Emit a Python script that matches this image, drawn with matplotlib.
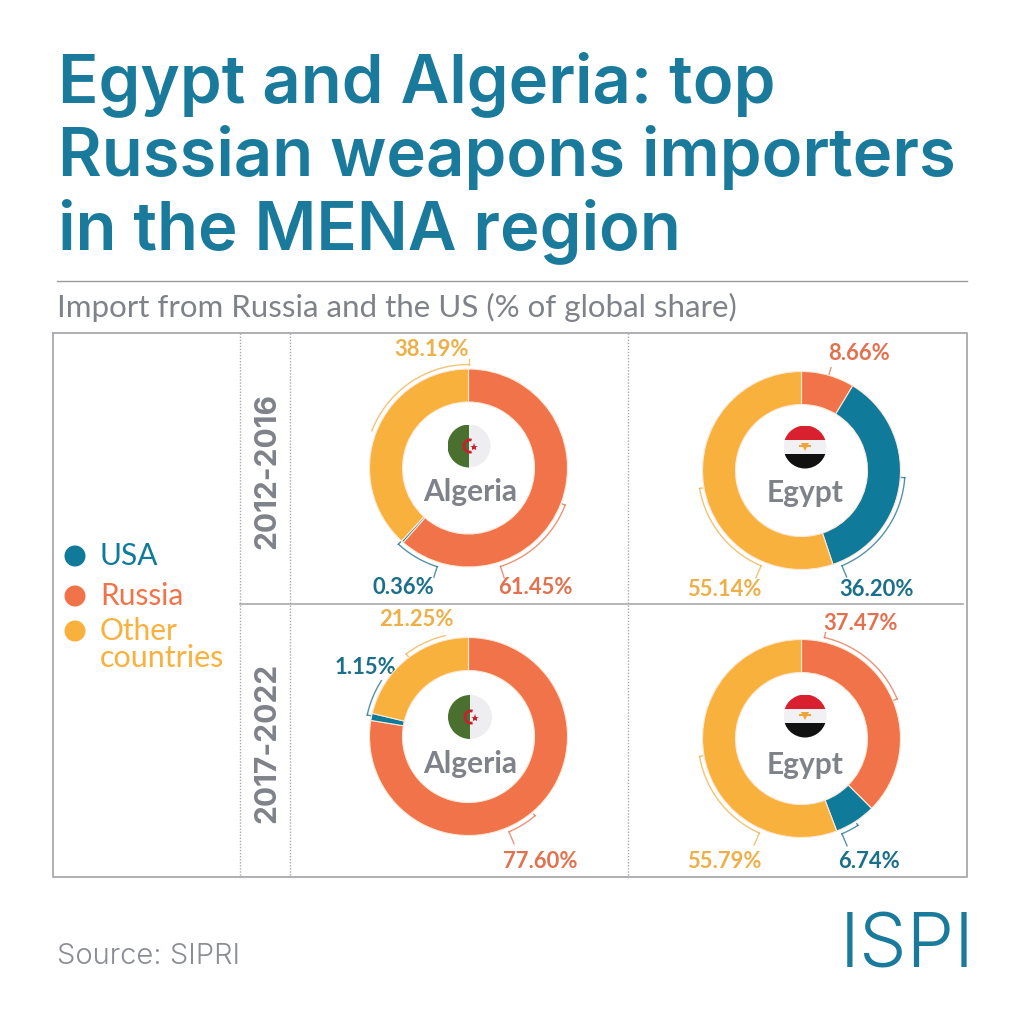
import numpy as np
import matplotlib
matplotlib.use('Agg')
import matplotlib.pyplot as plt
from matplotlib.patches import Circle, Rectangle, Wedge

TEAL = '#0F7A9A'
ORANGE = '#F0734A'
YELLOW = '#F9B13E'
GREY = '#7F8289'

series = ['USA', 'Russia', 'Other\ncountries']
countries = ['Algeria', 'Egypt', 'Algeria', 'Egypt']
periods = ['2012-2016', '2017-2022']

# share of imports, clockwise from the top
russia = [61.45, 8.66, 77.60, 37.47]
usa = [0.36, 36.20, 1.15, 6.74]
other = [38.19, 55.14, 21.25, 55.79]

title_lines = ['Egypt and Algeria: top', 'Russian weapons importers', 'in the MENA region']
subtitle = 'Import from Russia and the US (% of global share)'
source = 'Source: SIPRI'

centers = [(468.5, 468), (801.5, 470.5), (468.5, 736.5), (801.5, 738.5)]
R_OUT = 99
R_IN = 66

fig = plt.figure(figsize=(10.24, 10.24), dpi=100, facecolor='white')
ax = fig.add_axes([0, 0, 1, 1])
ax.set_xlim(0, 1024)
ax.set_ylim(1024, 0)
ax.axis('off')

# title block
for y, line in zip([84, 157, 231], title_lines):
    ax.text(58, y, line, color='#1A7A9B', fontsize=48.3, family='Inter', weight=600, va='center', ha='left')
ax.plot([57, 967], [281, 281], color='#9A9CA0', lw=1)
ax.text(57, 307, subtitle, color=GREY, fontsize=22.5, family='Lato', va='center', ha='left')

# frame and grid
ax.plot([53, 967, 967, 53, 53], [333, 333, 877, 877, 333], color='#A8A9AC', lw=1.3)
ax.plot([240, 963], [604, 604], color='#A8A9AC', lw=1.2)
for x in [240, 290, 628]:
    ax.plot([x, x], [333, 877], color='#A8A9AC', lw=1, ls=(0, (1, 1.2)))

# legend
for y, c, name in zip([556, 596, 631], [TEAL, ORANGE, YELLOW], series):
    ax.add_patch(Circle((75, y), 10.5, color=c, lw=0))
    ax.text(100, y, name.split('\n')[0], color=c, fontsize=21.5, family='Lato', va='center', ha='left')
ax.text(100, 658, series[2].split('\n')[1], color=YELLOW, fontsize=22, family='Lato', va='center', ha='left')

for y, p in zip([471, 743], periods):
    ax.text(267, y, p, color=GREY, fontsize=21.6, family='Inter', weight='bold', rotation=90, va='center', ha='center')


def polar(c, r, a):
    t = np.radians(a)
    return c[0] + r * np.sin(t), c[1] - r * np.cos(t)


def bracket(c, a0, a1, color, r=103.5, tick0=0, tick1=0):
    a = np.linspace(a0, a1, 60)
    x, y = polar(c, r, a)
    ax.plot(x, y, color=color, lw=1, alpha=0.75)
    if tick0:
        x, y = polar(c, np.array([r, r + tick0]), a0)
        ax.plot(x, y, color=color, lw=1, alpha=0.75)
    if tick1:
        x, y = polar(c, np.array([r, r + tick1]), a1)
        ax.plot(x, y, color=color, lw=1, alpha=0.75)


LT = '#1B6F8A'
LO = '#E2714F'
LY = '#EDB049'

# donuts
for i, c in enumerate(centers):
    pie_ax = fig.add_axes([(c[0] - R_OUT) / 1024, 1 - (c[1] + R_OUT) / 1024, 2 * R_OUT / 1024, 2 * R_OUT / 1024])
    pie_ax.pie([russia[i], usa[i], other[i]], colors=[ORANGE, TEAL, YELLOW], startangle=90, counterclock=False,
               radius=1, wedgeprops={'width': 1 - R_IN / R_OUT, 'edgecolor': '#FBE9D8', 'linewidth': 0.8})
    pie_ax.set_xlim(-1, 1)
    pie_ax.set_ylim(-1, 1)

# brackets around the rings
c = centers[0]
bracket(c, 291, 360, LY, tick1=6)
bracket(c, 111, 162, LO, tick0=-3, tick1=12)
bracket(c, 222.6, 197.6, LT, tick1=11, tick0=-3)
c = centers[1]
bracket(c, 94, 157, LT, tick0=-4, tick1=12)
bracket(c, 260, 203, LY, tick0=-3, tick1=13)
x0, y0 = polar(c, 98, 16)
x1, y1 = polar(c, 107, 16)
ax.plot([x0, x1], [y0, y1], color=LO, lw=1, alpha=0.75)
c = centers[2]
bracket(c, 347, 323, LY, tick1=-6)
bracket(c, 302.7, 282, LT, tick1=-5)
bracket(c, 140, 157, LO, tick0=-2, tick1=13)
c = centers[3]
bracket(c, 12.8, 67.5, LO, tick0=5, tick1=-4)
bracket(c, 147, 157, LT, tick0=-2, tick1=13)
bracket(c, 260, 204, LY, tick0=-3, tick1=13)

# percentage labels
labels = [
    (432, 349, '38.19%', LY), (535, 588, '61.45%', LO), (403, 587, '0.36%', LT),
    (859, 353, '8.66%', LO), (877, 590, '36.20%', LT), (724, 589, '55.14%', LY),
    (416, 619, '21.25%', LY), (365, 668, '1.15%', LT), (540, 862, '77.60%', LO),
    (861, 624, '37.47%', LO), (869, 861, '6.74%', LT), (724, 861, '55.79%', LY),
]
for x, y, s, col in labels:
    ax.text(x, y, s, color=col, fontsize=15.8, family='Lato', weight='bold', va='center', ha='center')

# centre names
for (x, y), name in zip([(470, 492), (805, 493), (470, 764), (805, 765)], countries):
    ax.text(x, y, name, color=GREY, fontsize=21.5, family='Lato', weight='bold', va='center', ha='center')


def flag_algeria(x, y, r):
    clip = Circle((x, y), r, transform=ax.transData, fc='none', ec='none')
    ax.add_patch(clip)
    ax.add_patch(Rectangle((x - r, y - r), r, 2 * r, color='#4A7030', lw=0, clip_path=clip))
    ax.add_patch(Rectangle((x, y - r), r, 2 * r, color='#EEEEF0', lw=0, clip_path=clip))
    ax.add_patch(Wedge((x + 1, y), 7.5, 75, 285, width=2.8, color='#C8202F', lw=0))
    ax.plot([x + 4.5], [y + 0.5], marker='*', ms=6, color='#C8202F', mew=0)


def flag_egypt(x, y, r):
    clip = Circle((x, y), r, transform=ax.transData, fc='none', ec='none')
    ax.add_patch(clip)
    for k, col in enumerate(['#D8202F', '#F1F1F3', '#111111']):
        ax.add_patch(Rectangle((x - r, y - r + k * 2 * r / 3), 2 * r, 2 * r / 3, color=col, lw=0, clip_path=clip))
    ax.plot([x], [y], marker='v', ms=6, color='#EDA43A', mew=0)
    ax.plot([x - 5, x + 5], [y - 1, y - 1], color='#EDA43A', lw=1.5)


flag_algeria(469, 446, 21.5)
flag_egypt(805, 447, 21.5)
flag_algeria(470, 717, 22)
flag_egypt(805, 716, 21.5)

# footer
ax.text(57, 957, source, color='#8A8D92', fontsize=21, family='Inter', weight=300, va='center', ha='left')
ax.text(907, 947, 'ISPI', color='#1A7A9B', fontsize=54.5, family='Inter', weight=300, va='center', ha='center')

fig.savefig('out.png', dpi=100)
